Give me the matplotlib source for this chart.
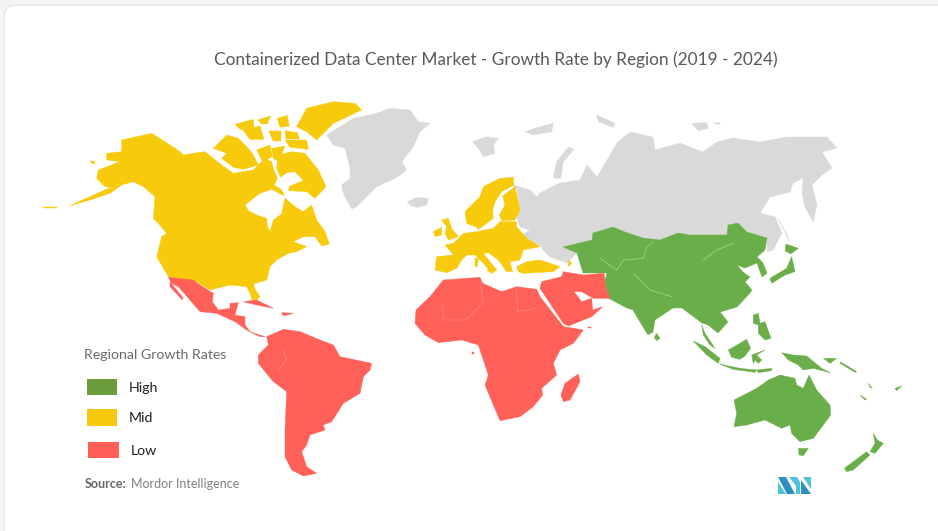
import matplotlib
matplotlib.use("Agg")
import matplotlib.pyplot as plt
from matplotlib.patches import Polygon, Rectangle, FancyBboxPatch

TITLE = "Containerized Data Center Market - Growth Rate by Region (2019 - 2024)"
LEGEND_TITLE = "Regional Growth Rates"
CATEGORIES = ["High", "Mid", "Low"]
SOURCE = "Mordor Intelligence"

GREEN, YELLOW, RED, GRAY = "#6AAE4A", "#F7CA0C", "#FF6058", "#D9D9D9"
LEGEND_COLORS = ["#6C9C3C", "#F6C80E", "#FF5F57"]

# Map outlines: (view origin x, view origin y, points traced at 3x zoom)
V1, V2, V3, V4, V5, V6 = (40, 90), (320, 90), (600, 100), (150, 270), (400, 260), (640, 280)

yellow_shapes = [
    (V1, [(245,150),(290,140),(335,130),(375,155),(420,185),(430,195),(460,190),(495,185),(520,205),(545,225),(580,250),
          (610,245),(640,240),(655,225),(675,205),(695,215),(700,235),(712,265),(703,285),(725,300),(733,318),(695,298),
          (660,310),(640,325),(615,345),(625,362),(650,375),(680,385),(682,410),(690,425),(700,390),(725,372),(730,345),
          (735,325),(765,350),(790,365),(815,345),(830,390),(855,425),(868,462),(845,468),(825,440),(790,440),(760,455),
          (800,470),(770,485),(745,490),(710,510),(690,530),(680,570),(640,582),(647,600),(660,620),(640,640),(630,610),
          (620,590),(570,585),(510,600),(470,575),(430,570),(385,560),(350,500),(365,440),(380,430),(355,400),(340,385),
          (345,320),(310,290),(280,275),(245,285),(210,310),(150,330),(90,347),(205,295),(225,295),(195,290),(170,265),
          (175,240),(240,215),(200,210),(200,190),(245,185)]),
    (V1, [(520,175),(560,135),(595,145),(625,175),(640,195),(655,225),(610,238),(580,232),(545,205),(560,190)]),
    (V1, [(650,180),(690,165),(697,200),(668,215)]),
    (V1, [(695,175),(735,168),(715,215),(700,205)]),
    (V1, [(715,195),(755,185),(795,190),(835,240),(858,290),(825,325),(800,305),(745,302),(750,288),(790,272),(765,245),
          (740,248),(722,262),(710,235)]),
    (V1, [(770,110),(800,55),(880,35),(945,40),(965,60),(880,100),(830,150),(800,125)]),
    (V1, [(735,150),(800,150),(805,178),(750,172)]),
    (V1, [(585,103),(640,88),(642,118),(600,118)]),
    (V1, [(608,120),(660,108),(672,148),(630,148)]),
    (V1, [(653,90),(692,78),(682,102),(665,102)]),
    (V1, [(712,85),(742,76),(748,108),(720,112)]),
    (V1, [(686,122),(722,122),(722,152),(698,152)]),
    (V1, [(735,122),(772,128),(778,147),(738,147)]),
    (V1, [(150,212),(165,215),(165,222),(155,220)]),
    (V1, [(10,350),(50,350),(50,353),(12,353)]),
    (V2, [(435,365),(480,320),(490,290),(540,265),(580,262),(582,285),(545,305),(525,335),(518,360),(520,385),(480,415),
          (465,410),(440,400)]),
    (V2, [(548,318),(585,290),(600,360),(585,390),(545,392),(538,375),(555,345)]),
    (V2, [(465,400),(480,400),(475,420)]),
    (V2, [(400,460),(430,430),(470,425),(520,415),(540,395),(590,395),(590,410),(620,445),(660,470),(610,480),(600,510),
          (570,515),(578,545),(560,545),(535,510),(505,488),(490,490),(530,540),(515,550),(490,520),(465,495),(440,495),
          (425,510),(410,535),(380,548),(345,540),(350,500),(400,495),(375,465)]),
    (V2, [(365,390),(385,385),(395,415),(415,440),(385,450),(375,430),(380,410)]),
    (V2, [(340,425),(365,412),(365,435),(345,440)]),
    (V2, [(465,505),(475,505),(472,530),(465,530)]),
    (V2, [(500,540),(525,535),(515,550)]),
    (V2, [(590,530),(620,515),(660,510),(720,530),(700,545),(610,550),(595,545)]),
    (V2, [(745,510),(755,520),(745,530)]),
]

gray_shapes = [
    (V2, [(20,135),(100,85),(170,70),(210,55),(270,60),(295,95),(330,100),(300,125),(280,170),(245,215),(260,240),(225,265),
          (170,290),(110,350),(95,357),(70,310),(65,285),(90,265),(90,235),(75,175),(40,165)]),
    (V2, [(262,335),(290,322),(325,325),(320,345),(290,352),(270,345)]),
    (V2, [(458,155),(500,140),(535,145),(520,165),(525,190),(490,200),(475,175)]),
    (V2, [(615,125),(660,110),(700,100),(695,125),(640,135)]),
    (V2, [(700,260),(710,215),(745,172),(762,178),(730,215),(722,265),(705,265)]),
    (V2, [(830,75),(885,100),(880,112),(835,95)]),
    (V3, [(275,70),(320,68),(325,85),(295,92)]),
    (V3, [(340,68),(362,68),(355,74)]),
    (V3, [(530,350),(560,400),(570,430),(555,395)]),
]
russia_px = [(513,185),(530,190),(537,197),(533,203),(540,193),(560,183),(580,180),(587,165),(597,177),(607,160),(617,143),
             (630,132),(653,137),(655,150),(680,143),(703,152),(717,142),(733,138),(760,142),(787,137),(827,137),(837,148),
             (822,152),(832,168),(822,175),(812,185),(817,205),(813,222),(805,207),(802,193),(803,178),(793,183),(790,192),
             (770,197),(760,213),(775,217),(782,233),(773,250),(767,252),(767,238),(747,232),(738,223),(728,225),(727,235),
             (713,235),(690,235),(678,233),(660,240),(643,238),(625,232),(613,227),(593,233),(592,240),(563,247),(577,253),
             (567,263),(550,257),(543,250),(540,245),(526,247),(517,238),(530,230),(520,227),(517,218),(517,210),(520,210),
             (517,190)]

green_px = [(563,247),(592,240),(593,233),(613,227),(625,232),(643,238),(660,240),(678,233),(690,235),(713,235),(727,235),
            (728,225),(738,223),(747,232),(767,238),(765,250),(757,257),(763,263),(767,273),(762,277),(757,263),(745,268),
            (737,265),(743,272),(750,277),(745,282),(752,290),(750,293),(737,307),(720,312),(728,322),(718,333),(708,325),
            (702,323),(682,308),(673,308),(655,320),(653,332),(648,335),(640,322),(633,310),(627,308),(608,298),(603,288),
            (607,273),(602,273),(583,273),(577,253)]

green_shapes = [
    (V6, [(50,160),(60,175),(50,182),(43,172)]),
    (V6, [(160,183),(195,200),(240,235),(235,250),(200,225)]),
    (V6, [(185,135),(195,160),(225,205),(210,195),(190,165)]),
    (V6, [(238,252),(300,265),(350,270),(345,277),(280,268)]),
    (V6, [(350,270),(395,265),(395,272),(355,278)]),
    (V6, [(265,210),(320,178),(332,205),(315,228),(300,238),(275,232)]),
    (V6, [(335,225),(375,210),(350,225),(365,240),(355,250),(345,240),(340,250)]),
    (V6, [(425,218),(460,225),(500,228),(545,265),(570,278),(520,265),(490,270),(475,255),(445,240)]),
    (V6, [(340,105),(355,100),(360,130),(375,125),(393,175),(375,180),(355,160),(355,135),(340,130)]),
    (V6, [(700,460),(712,480),(730,490),(705,520),(690,515),(705,490)]),
    (V6, [(613,565),(680,515),(690,525),(640,570),(620,575)]),
    (V6, [(765,325),(785,318),(770,332)]),
    (V6, [(660,345),(680,358),(675,360)]),
    (V6, [(685,310),(697,325),(690,322)]),
    (V6, [(550,235),(590,235),(570,250)]),
    (V6, [(600,245),(650,275),(645,277),(600,250)]),
    (V6, [(282,360),(350,325),(385,300),(420,285),(465,295),(470,315),(490,325),(507,285),(530,330),(570,375),(572,405),
          (520,475),(480,485),(455,460),(450,435),(425,445),(375,420),(320,435),(282,440),(290,400)]),
    (V6, [(475,505),(505,505),(490,527),(477,525)]),
    (V3, [(558,432),(595,445),(572,462),(555,452)]),
    (V3, [(575,470),(585,515),(555,525),(515,550),(510,535),(560,505)]),
]

red_shapes = [
    (V4, [(55,22),(130,30),(150,45),(190,70),(187,95),(205,120),(240,115),(240,100),(265,98),(255,135),(285,140),(285,165),
          (300,185),(345,200),(330,200),(290,180),(255,155),(200,130),(150,125),(120,90),(85,50),(65,40)]),
    (V4, [(60,35),(100,85),(95,88),(60,50)]),
    (V4, [(280,95),(320,90),(370,115),(320,105)]),
    (V4, [(395,128),(430,130),(400,138)]),
    (V4, [(350,200),(400,178),(450,185),(510,210),(550,225),(570,260),(665,280),(660,300),(640,320),(630,370),(580,400),
          (545,455),(520,465),(525,480),(480,495),(470,525),(455,545),(470,590),(500,610),(460,618),(425,600),(405,560),
          (405,480),(410,365),(370,335),(325,280),(325,255),(355,225)]),
    (V5, [(130,60),(240,52),(248,70),(305,95),(350,80),(410,88),(420,110),(490,200),(550,210),(520,250),(480,270),(460,310),
          (470,345),(425,385),(428,405),(400,440),(360,470),(300,482),(255,375),(265,345),(235,255),(185,240),(115,248),
          (75,225),(45,190),(48,150),(90,110)]),
    (V5, [(535,342),(540,365),(510,420),(490,425),(483,405),(495,370)]),
    (V5, [(425,65),(485,50),(490,35),(550,45),(612,40),(618,85),(630,115),(580,115),(545,95),(522,95),(545,125),(575,115),
          (578,150),(608,140),(575,170),(505,198),(490,190),(460,145),(420,85)]),
    (V5, [(215,276),(221,276),(221,281),(215,281)]),
    (V5, [(563,200),(573,200),(573,204),(563,204)]),
]

# Faint internal borders
red_borders = [
    (V5, [(240,60),(250,130),(195,180),(130,180),(128,130)]),
    (V5, [(350,85),(352,155),(410,145)]),
    (V4, [(400,240),(410,270),(385,300)]),
]
green_borders = [
    (V3, [(310,480),(350,450),(400,430)]),
    (V3, [(0,475),(50,510),(70,480),(130,475),(140,440),(160,425)]),
    (V3, [(100,520),(150,570),(215,590)]),
]

def px(shape):
    (ox, oy), pts = shape
    return [(ox + x / 3, oy + y / 3) for x, y in pts]

plt.rcParams["font.family"] = ["Lato", "DejaVu Sans"]
fig = plt.figure(figsize=(9.38, 5.31), dpi=100, facecolor="#F4F4F4")
ax = fig.add_axes([0, 0, 1, 1])
ax.set_xlim(0, 938)
ax.set_ylim(531, 0)
ax.axis("off")

ax.add_patch(FancyBboxPatch((4, 5), 960, 560, boxstyle="round,pad=0,rounding_size=12",
                            fc="white", ec="#E6E6E6", lw=1, zorder=0))

for shape in gray_shapes:
    ax.add_patch(Polygon(px(shape), closed=True, fc=GRAY, ec=GRAY, lw=0.3, zorder=1))
ax.add_patch(Polygon(russia_px, closed=True, fc=GRAY, ec=GRAY, lw=0.3, zorder=1))
for shape in yellow_shapes:
    ax.add_patch(Polygon(px(shape), closed=True, fc=YELLOW, ec=YELLOW, lw=0.3, zorder=2))
ax.add_patch(Polygon(green_px, closed=True, fc=GREEN, ec=GREEN, lw=0.3, zorder=2))
for shape in green_shapes:
    ax.add_patch(Polygon(px(shape), closed=True, fc=GREEN, ec=GREEN, lw=0.3, zorder=2))
for shape in red_shapes:
    ax.add_patch(Polygon(px(shape), closed=True, fc=RED, ec=RED, lw=0.3, zorder=2))
for shape in red_borders:
    xs, ys = zip(*px(shape))
    ax.plot(xs, ys, color="#FF8A80", lw=0.5, zorder=3)
for shape in green_borders:
    xs, ys = zip(*px(shape))
    ax.plot(xs, ys, color="#A8D890", lw=0.5, zorder=3)

ax.text(496, 60, TITLE, ha="center", va="center", fontsize=12.4, color="#595959")
ax.text(84, 355, LEGEND_TITLE, ha="left", va="center", fontsize=10.2, color="#6B6B6B")

legend_boxes = [(87, 379, 30, 16), (87, 409, 30, 17), (88, 442, 31, 16)]
legend_text_x = [129, 129, 131]
for (x, y, w, h), c, lab, tx in zip(legend_boxes, LEGEND_COLORS, CATEGORIES, legend_text_x):
    ax.add_patch(Rectangle((x, y), w, h, fc=c, ec="none", zorder=2))
    ax.text(tx, y + h / 2 + 1, lab, ha="left", va="center", fontsize=10.2, color="#222222")

ax.text(85, 484, "Source:", ha="left", va="center", fontsize=9, fontweight="bold", color="#666666")
ax.text(131, 484, SOURCE, ha="left", va="center", fontsize=9, color="#808080")

# Logo
for pts in [[(778, 477), (786, 477), (795, 494), (787, 494)], [(801, 480), (811, 494), (801, 494)]]:
    ax.add_patch(Polygon(pts, closed=True, fc="#2E8FC4", ec="none", zorder=3))
for pts in [[(778, 482), (786, 494), (778, 494)], [(789, 477), (797, 477), (800, 482), (800, 494), (796, 494), (796, 486)],
            [(803, 477), (811, 477), (811, 489)]]:
    ax.add_patch(Polygon(pts, closed=True, fc="#4FC4D6", ec="none", zorder=3))

fig.savefig("out.png", dpi=100, facecolor=fig.get_facecolor())
